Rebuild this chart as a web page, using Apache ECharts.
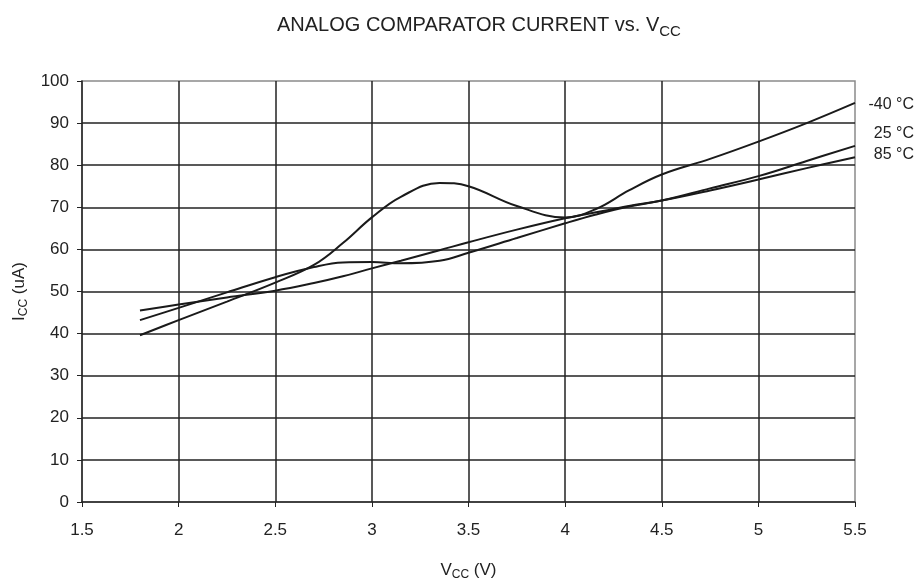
<!DOCTYPE html>
<html>
<head>
<meta charset="utf-8">
<script src="https://cdn.jsdelivr.net/npm/echarts@6/dist/echarts.min.js"></script>
<style>
html,body{margin:0;padding:0;background:#fff;}
#chart{width:924px;height:586px;}
</style>
</head>
<body>
<div id="chart"></div>
<script>
const voltages = [1.8, 2.0, 2.25, 2.5, 2.7, 2.85, 3.0, 3.15, 3.35, 3.5, 3.75, 4.0, 4.16, 4.33, 4.5, 4.75, 5.0, 5.25, 5.5];
const seriesNames = ['-40 °C', '25 °C', '85 °C'];
const iccM40 = [39.6, 43.2, 47.6, 52.1, 56.3, 61.5, 67.6, 72.5, 75.8, 75.0, 70.3, 67.6, 69.6, 74.0, 77.8, 81.5, 85.6, 90.0, 94.8];
const icc25  = [43.2, 46.1, 49.8, 53.4, 55.8, 56.9, 57.0, 56.7, 57.3, 59.2, 62.7, 66.2, 68.3, 70.2, 71.6, 74.5, 77.4, 81.0, 84.6];
const icc85  = [45.5, 46.9, 48.6, 50.2, 52.0, 53.6, 55.5, 57.3, 59.8, 61.7, 64.7, 67.4, 68.8, 70.3, 71.6, 74.0, 76.6, 79.3, 81.9];
const xTicks = [1.5, 2, 2.5, 3, 3.5, 4, 4.5, 5, 5.5];
const yTicks = [0, 10, 20, 30, 40, 50, 60, 70, 80, 90, 100];

const FONT = '"Liberation Sans", Arial, sans-serif';
const allValues = [iccM40, icc25, icc85];
const labelOffsets = [[59, 2], [59, -12], [59, -3]];

const chart = echarts.init(document.getElementById('chart'));
chart.setOption({
  animation: false,
  backgroundColor: '#fff',
  textStyle: { fontFamily: FONT },
  title: {
    text: '{m|ANALOG COMPARATOR CURRENT vs. V}{s|CC}',
    left: 272,
    top: 7,
    textStyle: {
      rich: {
        m: { fontFamily: FONT, fontSize: 20, color: '#222', fontWeight: 'normal' },
        s: { fontFamily: FONT, fontSize: 15, color: '#222', fontWeight: 'normal', verticalAlign: 'bottom', padding: [12, 0, 0, 0] }
      }
    }
  },
  grid: { left: 82, right: 69, top: 81, bottom: 80, show: true, borderColor: '#8a8a8a', borderWidth: 1.5, containLabel: false },
  xAxis: {
    type: 'value',
    min: xTicks[0],
    max: xTicks[xTicks.length - 1],
    interval: 0.5,
    name: '{m|V}{s|CC}{m| (V)}',
    nameLocation: 'middle',
    nameGap: 58,
    nameTextStyle: {
      rich: {
        m: { fontFamily: FONT, fontSize: 17, color: '#222' },
        s: { fontFamily: FONT, fontSize: 12, color: '#222', verticalAlign: 'bottom', padding: [9, 0, 0, 0] }
      }
    },
    axisLine: { lineStyle: { color: '#222', width: 1.5 } },
    axisTick: { show: true, inside: false, length: 5, lineStyle: { color: '#222' } },
    axisLabel: { fontFamily: FONT, fontSize: 17, color: '#222', margin: 20, formatter: v => String(v) },
    splitLine: { show: true, showMinLine: false, showMaxLine: false, lineStyle: { color: '#222', width: 1.5 } }
  },
  yAxis: {
    type: 'value',
    min: yTicks[0],
    max: yTicks[yTicks.length - 1],
    interval: 10,
    name: '{m|I}{s|CC}{m| (uA)}',
    nameLocation: 'middle',
    nameGap: 51,
    nameRotate: 90,
    nameTextStyle: {
      rich: {
        m: { fontFamily: FONT, fontSize: 17, color: '#222' },
        s: { fontFamily: FONT, fontSize: 12, color: '#222', verticalAlign: 'bottom', padding: [9, 0, 0, 0] }
      }
    },
    axisLine: { show: true, lineStyle: { color: '#222', width: 1.5 } },
    axisTick: { show: true, inside: false, length: 5, lineStyle: { color: '#222' } },
    axisLabel: { fontFamily: FONT, fontSize: 17, color: '#222', margin: 13 },
    splitLine: { show: true, showMinLine: false, showMaxLine: false, lineStyle: { color: '#222', width: 1.5 } }
  },
  series: seriesNames.map((name, i) => ({
    name: name,
    type: 'line',
    smooth: 0.4,
    symbol: 'none',
    data: voltages.map((v, k) => [v, allValues[i][k]]),
    lineStyle: { color: '#1a1a1a', width: 2 },
    endLabel: {
      show: true,
      formatter: name,
      fontFamily: FONT,
      fontSize: 16,
      color: '#222',
      align: 'right',
      distance: 0,
      offset: labelOffsets[i]
    },
    z: 3
  }))
});
</script>
</body>
</html>
